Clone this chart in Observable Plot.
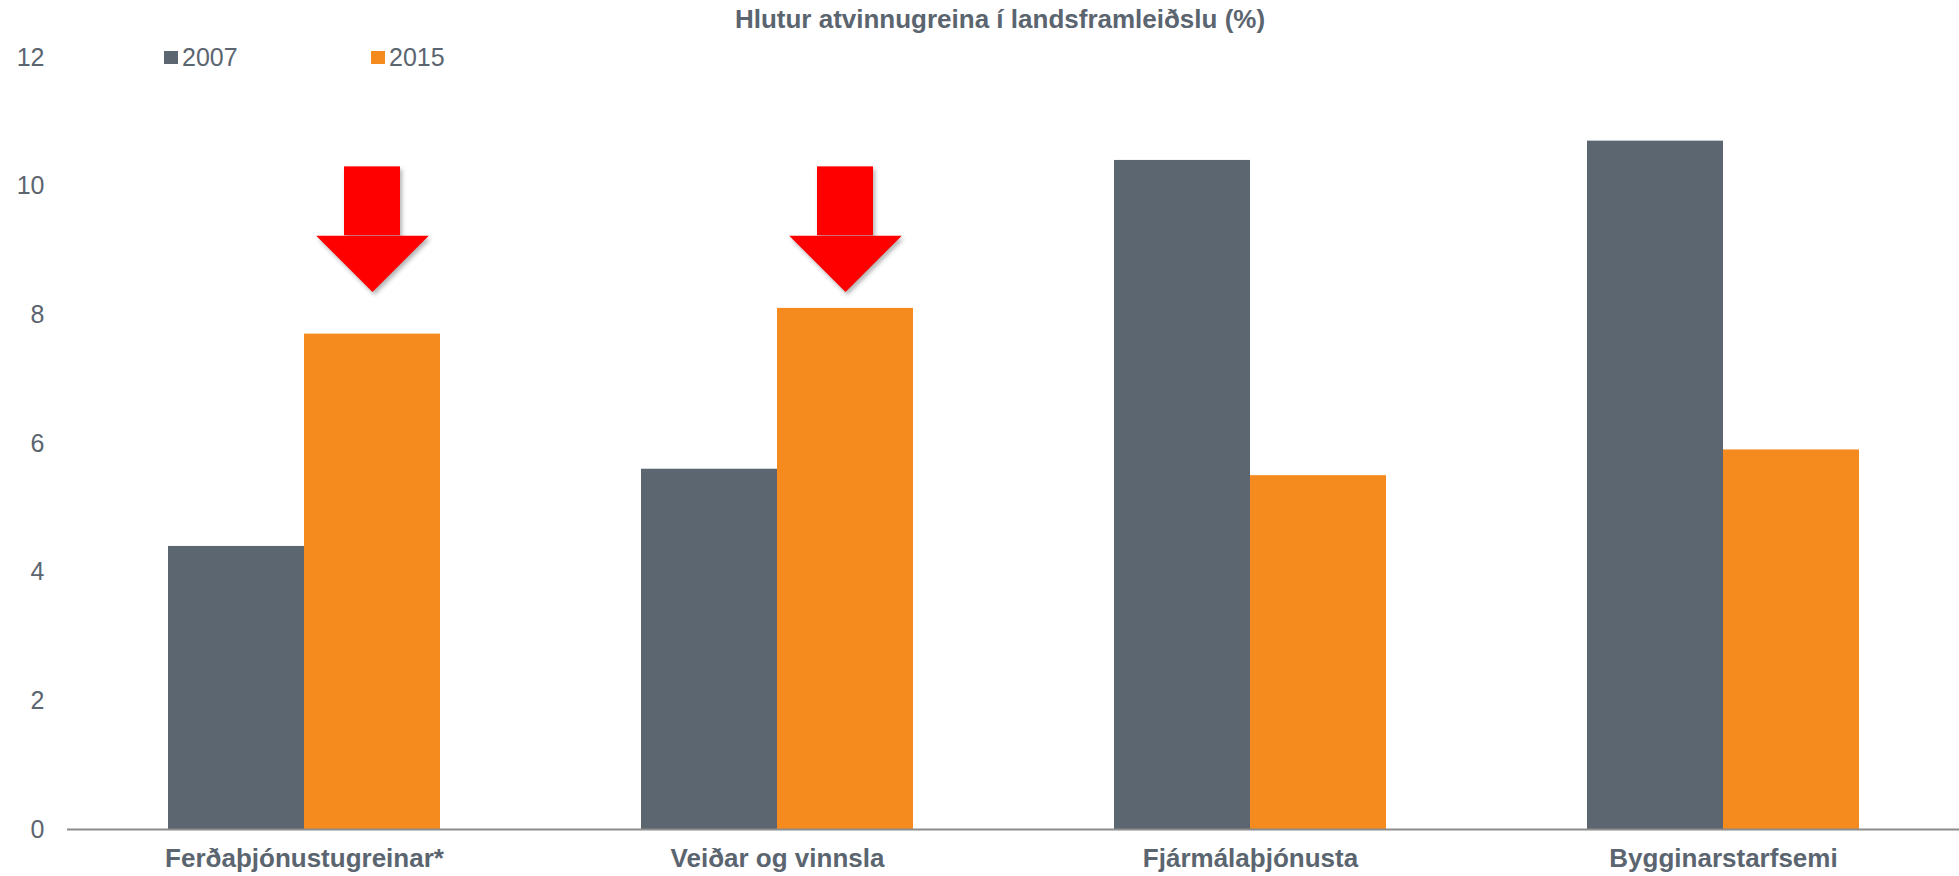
<!DOCTYPE html>
<html>
<head>
<meta charset="utf-8">
<script src="https://cdn.jsdelivr.net/npm/d3@7"></script>
<script src="https://cdn.jsdelivr.net/npm/@observablehq/plot@0.6"></script>
<style>
  html, body { margin: 0; padding: 0; background: #fff; }
  #wrap { position: relative; width: 1959px; height: 876px; font-family: "Liberation Sans", Arial, sans-serif; color: #5b6570; }
  #title { position: absolute; left: 0; width: 2000px; top: 4px; text-align: center; font-weight: bold; font-size: 26px; line-height: 30px; }
  .lg { position: absolute; top: 42px; font-size: 25px; line-height: 30px; }
  .sw { position: absolute; top: 51px; width: 14px; height: 13px; }
  #chart { position: absolute; left: 0; top: 0; }
  .arrow { filter: drop-shadow(2px 3px 2px rgba(0,0,0,0.3)); }
</style>
</head>
<body>
<div id="wrap">
  <div id="chart"></div>
  <div id="title">Hlutur atvinnugreina í landsframleiðslu (%)</div>
  <div class="sw" style="left:164px;background:#5c6670"></div>
  <div class="lg" style="left:182px">2007</div>
  <div class="sw" style="left:371px;background:#f58b1f"></div>
  <div class="lg" style="left:389px">2015</div>
</div>
<script>
const categories = ["Ferðaþjónustugreinar*", "Veiðar og vinnsla", "Fjármálaþjónusta", "Bygginarstarfsemi"];
const years = ["2007", "2015"];
const values2007 = [4.4, 5.6, 10.4, 10.7];
const values2015 = [7.7, 8.1, 5.5, 5.9];
const yTicks = [0, 2, 4, 6, 8, 10, 12];
const colors = ["#5c6670", "#f58b1f"];
// arrow annotations (in % units), pointing at the 2015 bars
const arrowCategories = ["Ferðaþjónustugreinar*", "Veiðar og vinnsla"];
const arrowTop = [10.3, 10.3];
const arrowHeadBase = [9.23, 9.23];

const data = [];
categories.forEach((c, i) => {
  data.push({category: c, year: "2007", value: values2007[i]});
  data.push({category: c, year: "2015", value: values2015[i]});
});
const arrows = arrowCategories.map((c, i) => ({category: c, year: "2015", top: arrowTop[i], base: arrowHeadBase[i]}));

const headSymbol = {
  draw(ctx, size) {
    const r = Math.sqrt(size / Math.PI);
    ctx.moveTo(-r, 0);
    ctx.lineTo(r, 0);
    ctx.lineTo(0, r);
    ctx.closePath();
  }
};

const chart = Plot.plot({
  width: 1959,
  height: 876,
  marginTop: 57,
  marginBottom: 47,
  marginLeft: 67,
  marginRight: 0,
  style: {fontFamily: '"Liberation Sans", Arial, sans-serif', fontSize: "25px", color: "#5b6570", background: "white", overflow: "visible"},
  fx: {domain: categories, paddingInner: 0.425, paddingOuter: 0.2125, label: null},
  x: {domain: years, padding: 0, axis: null},
  y: {domain: [0, 12], ticks: yTicks, label: null},
  color: {domain: years, range: colors},
  marks: [
    Plot.barY(data, {fx: "category", x: "year", y: "value", fill: "year"}),
    Plot.frame({anchor: "bottom", facet: "super", stroke: "#8c8c8c", strokeWidth: 2, insetLeft: -100.5, insetRight: -100.5}),
    Plot.axisY({ticks: yTicks, tickSize: 0, tickPadding: 124, label: null, fontSize: "25px", fill: "#5b6570"}),
    Plot.axisFx({anchor: "bottom", tickSize: 0, tickPadding: 19, label: null, fontSize: "26px", fontWeight: "bold", fill: "#5b6570"}),
    Plot.barY(arrows, {fx: "category", x: "year", y1: "base", y2: "top", fill: "#ff0000", insetLeft: 40, insetRight: 40}),
    Plot.dot(arrows, {fx: "category", x: "year", y: "base", symbol: headSymbol, r: 56.3, fill: "#ff0000", stroke: "none"})
  ]
});
document.getElementById("chart").appendChild(chart);
// subtle shadow on the red arrows
chart.querySelectorAll('[fill="#ff0000"]').forEach(g => g.classList.add("arrow"));
</script>
</body>
</html>
